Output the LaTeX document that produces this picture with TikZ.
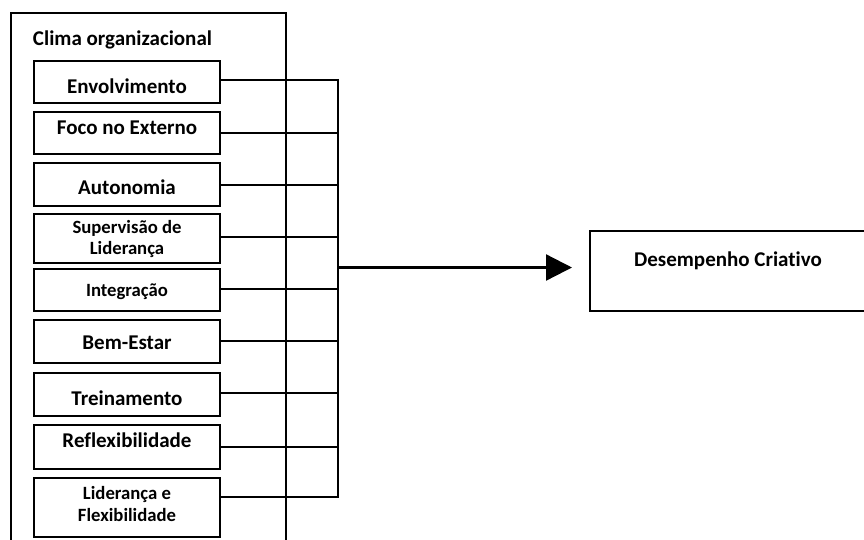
\documentclass[tikz,border=0pt]{standalone}
\usepackage{fontspec}
\setmainfont{Carlito}[Ligatures={NoCommon,NoContextual}]
\usetikzlibrary{arrows.meta}
\begin{document}
\begin{tikzpicture}[x=1pt,y=-1pt,
  item/.style={draw=black,line width=1.8pt,minimum width=186pt,inner sep=0pt,anchor=center},
  big/.style={font=\fontsize{21}{24}\selectfont\bfseries,inner sep=0pt,align=center},
  small/.style={font=\fontsize{18.7}{22}\selectfont\bfseries,inner sep=0pt,align=center},
  conn/.style={line width=2.3pt},
  outer/.style={line width=2pt}]
\useasboundingbox (0,0) rectangle (864,539);
% outer frame (open at the bottom)
\draw[outer] (11,545) -- (11,13) -- (286,13) -- (286,545);
\node[big] (title) at (122.5,40) {Clima organizacional};
% boxes
\node[item,minimum height=42pt] (b1) at (127,82) {};
\node[item,minimum height=42pt] (b2) at (127,133) {};
\node[item,minimum height=43pt] (b3) at (127,184.5) {};
\node[item,minimum height=49pt] (b4) at (127,238.5) {};
\node[item,minimum height=42pt] (b5) at (127,290) {};
\node[item,minimum height=43pt] (b6) at (127,341.5) {};
\node[item,minimum height=43pt] (b7) at (127,394.5) {};
\node[item,minimum height=44pt] (b8) at (127,447) {};
\node[item,minimum height=59pt] (b9) at (127,507.5) {};
% labels
\node[big] (t1) at (127,86) {Envolvimento};
\node[big] (t2) at (127,128) {Foco no Externo};
\node[big] (t3) at (127,187) {Autonomia};
\node[small] (t4) at (127,239) {Supervisão de\\[-1pt]Liderança};
\node[small] (t5) at (127,292) {Integração};
\node[big] (t6) at (127,343) {Bem-Estar};
\node[big] (t7) at (127,398) {Treinamento};
\node[big] (t8) at (127,440) {Re{}flexibilidade};
\node[small] (t9) at (127,504) {Liderança e\\[0pt]Flexibilidade};
% bus coordinates
\coordinate (c1) at (338,80);
\coordinate (c2) at (338,133);
\coordinate (c3) at (338,185);
\coordinate (c4) at (338,237);
\coordinate (c5) at (338,289);
\coordinate (c6) at (338,341);
\coordinate (c7) at (338,393);
\coordinate (c8) at (338,447);
\coordinate (c9) at (338,497);
\foreach \i in {1,...,9}{
  \draw[conn] (b\i.east |- c\i) -- (c\i);
}
\draw[conn] ([yshift=1.15pt]c1) -- ([yshift=-1.15pt]c9);
% target box (right edge off the page)
\node[draw=black,line width=2pt,minimum width=290pt,minimum height=80pt,inner sep=0pt] (dc) at (735,271) {};
\node[big] (dt) at (728,261) {Desempenho Cria{}tivo};
\coordinate (a0) at (338,267.5);
\draw[line width=2.3pt,-{Triangle[length=26pt,width=26pt]}] (a0) -- ([xshift=-17pt]dc.west |- a0);
\end{tikzpicture}
\end{document}
